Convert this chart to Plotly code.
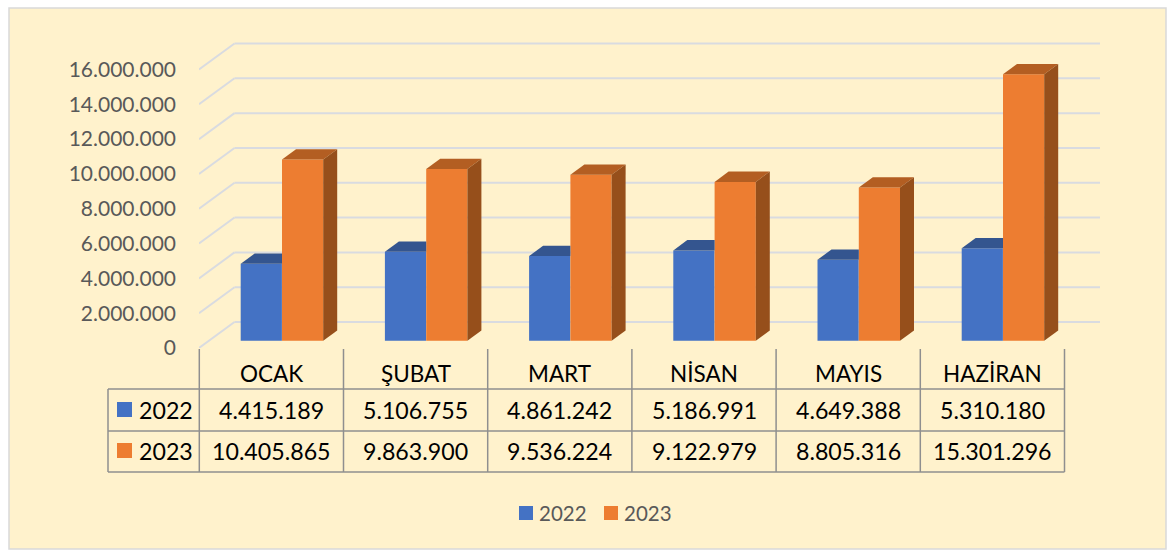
import plotly.graph_objects as go

months = ["OCAK", "ŞUBAT", "MART", "NİSAN", "MAYIS", "HAZİRAN"]
series_names = ["2022", "2023"]
values_2022 = [4415189, 5106755, 4861242, 5186991, 4649388, 5310180]
values_2023 = [10405865, 9863900, 9536224, 9122979, 8805316, 15301296]
y_ticks = [0, 2000000, 4000000, 6000000, 8000000, 10000000, 12000000, 14000000, 16000000]

BLUE, ORANGE = "#4472C4", "#ED7D31"
BLUE_TOP, ORANGE_TOP, ORANGE_SIDE = "#34558F", "#B35E22", "#964F1B"
GRID, TABLE_LINE = "#D9DBE0", "#8F8F8F"
FONT = "Lato"

W, H = 1170, 550
L, R, T, B = 199, 1100, 30, 348          # plot rectangle in pixels
CAT_PX = 144.2                           # pixels per category
Y_PX = 278.5 / 16000000                  # pixels per unit of value

def ux(px):  # pixels -> x-axis units
    return px / CAT_PX
def uy(px):  # pixels -> y-axis units
    return px / Y_PX
def px_x(px):  # absolute pixel -> paper x
    return (px - L) / (R - L)
def px_y(py):  # absolute pixel -> paper y
    return (B - py) / (B - T)

WALL_DX, WALL_DY = ux(35.5), uy(26)      # floor depth
BAR_DX, BAR_DY = ux(14), uy(10.3)        # bar depth
LIFT = uy(7.3)                           # bar front sits behind the axis front edge
OFF_A, OFF_B, BAR_W = 41.7 / CAT_PX, 83 / CAT_PX, 41.2 / CAT_PX

fig = go.Figure()

for name, vals, col, off in [(series_names[0], values_2022, BLUE, OFF_A),
                             (series_names[1], values_2023, ORANGE, OFF_B)]:
    fig.add_trace(go.Bar(name=name, x=list(range(len(months))), y=vals, base=LIFT,
                         offset=off, width=BAR_W, marker=dict(color=col, line_width=0),
                         showlegend=False))

for i, (a, b) in enumerate(zip(values_2022, values_2023)):
    # blue top, cut where the orange bar begins
    x0, x1 = i + OFF_A, i + OFF_B
    top = a + LIFT
    fig.add_trace(go.Scatter(x=[x0, x0 + BAR_DX, x1, x1, x0],
                             y=[top, top + BAR_DY, top + BAR_DY, top, top],
                             mode="lines", fill="toself", fillcolor=BLUE_TOP,
                             line=dict(width=0), showlegend=False, hoverinfo="skip"))
    # orange top and side
    x0, x1 = i + OFF_B, i + OFF_B + BAR_W
    top = b + LIFT
    fig.add_trace(go.Scatter(x=[x0, x0 + BAR_DX, x1 + BAR_DX, x1, x0],
                             y=[top, top + BAR_DY, top + BAR_DY, top, top],
                             mode="lines", fill="toself", fillcolor=ORANGE_TOP,
                             line=dict(width=0), showlegend=False, hoverinfo="skip"))
    fig.add_trace(go.Scatter(x=[x1, x1 + BAR_DX, x1 + BAR_DX, x1, x1],
                             y=[LIFT, LIFT + BAR_DY, top + BAR_DY, top, LIFT],
                             mode="lines", fill="toself", fillcolor=ORANGE_SIDE,
                             line=dict(width=0), showlegend=False, hoverinfo="skip"))

shapes = []
annotations = []

# panel
shapes.append(dict(type="rect", xref="paper", yref="paper", layer="below",
                   x0=px_x(9), x1=px_x(1166), y0=px_y(549), y1=px_y(8),
                   fillcolor="#FFF2CC", line=dict(color="#D9D9D9", width=1.5)))

# gridlines: wall and floor
xmax = (R - L) / CAT_PX
for t in y_ticks:
    common = dict(type="line", xref="x", yref="y", layer="below",
                  line=dict(color=GRID, width=2))
    shapes.append(dict(common, x0=0, y0=t, x1=WALL_DX, y1=t + WALL_DY))
    shapes.append(dict(common, x0=WALL_DX, y0=t + WALL_DY, x1=xmax, y1=t + WALL_DY))

# data table
col_x = [199.3 + CAT_PX * i for i in range(len(months) + 1)]
rows_y = [349, 389, 431, 472]
tl = dict(color=TABLE_LINE, width=1.5)
for i, x in enumerate(col_x):
    shapes.append(dict(type="line", xref="paper", yref="paper", x0=px_x(x), x1=px_x(x),
                       y0=px_y(rows_y[0]), y1=px_y(rows_y[-1]), line=tl))
for y in rows_y[1:]:
    shapes.append(dict(type="line", xref="paper", yref="paper", x0=px_x(108), x1=px_x(col_x[-1]),
                       y0=px_y(y), y1=px_y(y), line=tl))
shapes.append(dict(type="line", xref="paper", yref="paper", x0=px_x(108), x1=px_x(108),
                   y0=px_y(rows_y[1]), y1=px_y(rows_y[-1]), line=tl))

def text(x, y, s, size, color="#000000", xanchor="center"):
    annotations.append(dict(xref="paper", yref="paper", x=px_x(x), y=px_y(y), text=s,
                            showarrow=False, xanchor=xanchor, yanchor="middle",
                            font=dict(family=FONT, size=size, color=color)))

def dotted(v):
    return f"{v:,}".replace(",", ".")

TABLE_SIZE = 23.2
for i, m in enumerate(months):
    cx = col_x[i] + CAT_PX / 2
    text(cx, 373, m, 22.5)
    text(cx, 409.5, dotted(values_2022[i]), TABLE_SIZE)
    text(cx, 450.5, dotted(values_2023[i]), TABLE_SIZE)

for name, col, y in [(series_names[0], BLUE, 409.5), (series_names[1], ORANGE, 450.5)]:
    shapes.append(dict(type="rect", xref="paper", yref="paper", x0=px_x(117), x1=px_x(132),
                       y0=px_y(y + 7.5), y1=px_y(y - 7.5), fillcolor=col, line_width=0))
    text(137, y, name, TABLE_SIZE, xanchor="left")

# legend
for name, col, sx, tx in [(series_names[0], BLUE, 519, 537), (series_names[1], ORANGE, 604, 622)]:
    shapes.append(dict(type="rect", xref="paper", yref="paper", x0=px_x(sx), x1=px_x(sx + 14),
                       y0=px_y(520), y1=px_y(506), fillcolor=col, line_width=0))
    text(tx, 512.5, name, 20.5, color="#595959", xanchor="left")

fig.update_layout(
    width=W, height=H, autosize=False,
    margin=dict(l=L, r=W - R, t=T, b=H - B, pad=0),
    paper_bgcolor="#FFFFFF", plot_bgcolor="rgba(0,0,0,0)",
    barmode="overlay", showlegend=False, separators=",.",
    shapes=shapes, annotations=annotations,
    font=dict(family=FONT),
    xaxis=dict(range=[0, xmax], showgrid=False, zeroline=False, showticklabels=False,
               showline=False, ticks=""),
    yaxis=dict(range=[0, uy(B - T)], showgrid=False, zeroline=False, showline=False,
               tickmode="array", tickvals=y_ticks, tickformat=",d", ticks="",
               ticklabelstandoff=22,
               tickfont=dict(family=FONT, size=21, color="#595959")),
)

fig.write_html("out.html", config={"displayModeBar": False},
               post_script="document.body.style.margin='0';document.body.style.overflow='hidden';")
